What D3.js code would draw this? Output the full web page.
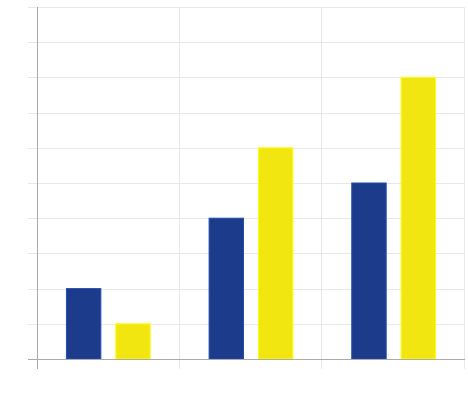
<!DOCTYPE html>
<html lang="en"><head><meta charset="utf-8">
<title>Bar chart</title>
<script src="https://cdn.jsdelivr.net/npm/d3@7"></script>
<style>
body { margin: 0; background: #fff; }
</style>
</head>
<body>
<script>
var categories = ["A", "B", "C"];
var seriesNames = ["s1", "s2"];
var series1 = [2, 4, 5];
var series2 = [1, 6, 8];
var yTicks = [0, 1, 2, 3, 4, 5, 6, 7, 8, 9, 10];

var colors = ["#1c3c8b", "#f2e610"];

var width = 468, height = 400;
// note: "top" is window.top in a browser, so use other names
var plotLeft = 37, plotRight = 465, plotTop = 7, plotBottom = 359;

var svg = d3.select("body").append("svg")
    .attr("width", width)
    .attr("height", height);

var x = d3.scaleBand().domain(categories).range([plotLeft, plotRight]).padding(0);
var xInner = d3.scaleBand().domain(seriesNames).range([0, x.bandwidth()])
    .paddingInner(0.303).paddingOuter(0.596);
var y = d3.scaleLinear().domain([0, 10]).range([plotBottom, plotTop]);

// horizontal grid
svg.append("g").selectAll("line")
    .data(yTicks.filter(function(d){ return d > 0; }))
    .enter().append("line")
    .attr("x1", plotLeft - 9).attr("x2", plotRight)
    .attr("y1", function(d){ return Math.round(y(d)) + 0.5; })
    .attr("y2", function(d){ return Math.round(y(d)) + 0.5; })
    .attr("stroke", "#e8e8e8");

// vertical grid
var xLines = categories.map(function(c){ return x(c); }).concat([plotRight]);
svg.append("g").selectAll("line")
    .data(xLines.slice(1))
    .enter().append("line")
    .attr("x1", function(d){ return Math.round(d) - 0.5; })
    .attr("x2", function(d){ return Math.round(d) - 0.5; })
    .attr("y1", plotTop).attr("y2", plotBottom + 10)
    .attr("stroke", "#e8e8e8");

// bars
var rows = categories.map(function(c, i){
  return { cat: c, values: [series1[i], series2[i]] };
});

var groups = svg.append("g").selectAll("g")
    .data(rows)
    .enter().append("g")
    .attr("transform", function(d){ return "translate(" + x(d.cat) + ",0)"; });

groups.selectAll("rect")
    .data(function(d){ return d.values.map(function(v, j){ return { name: seriesNames[j], value: v, j: j }; }); })
    .enter().append("rect")
    .attr("x", function(d){ return xInner(d.name); })
    .attr("width", xInner.bandwidth())
    .attr("y", function(d){ return y(d.value); })
    .attr("height", function(d){ return y(0) - y(d.value); })
    .attr("fill", function(d){ return colors[d.j]; })
    .attr("stroke", function(d){ return d3.color(colors[d.j]).brighter(0.7); })
    .attr("stroke-width", 1);

// axes
svg.append("line")
    .attr("x1", plotLeft + 0.5).attr("x2", plotLeft + 0.5)
    .attr("y1", plotTop).attr("y2", plotBottom + 10)
    .attr("stroke", "#aaaaaa");

svg.append("line")
    .attr("x1", plotLeft - 9).attr("x2", plotRight)
    .attr("y1", Math.round(y(0)) + 0.5).attr("y2", Math.round(y(0)) + 0.5)
    .attr("stroke", "#aaaaaa");
</script>
</body></html>
